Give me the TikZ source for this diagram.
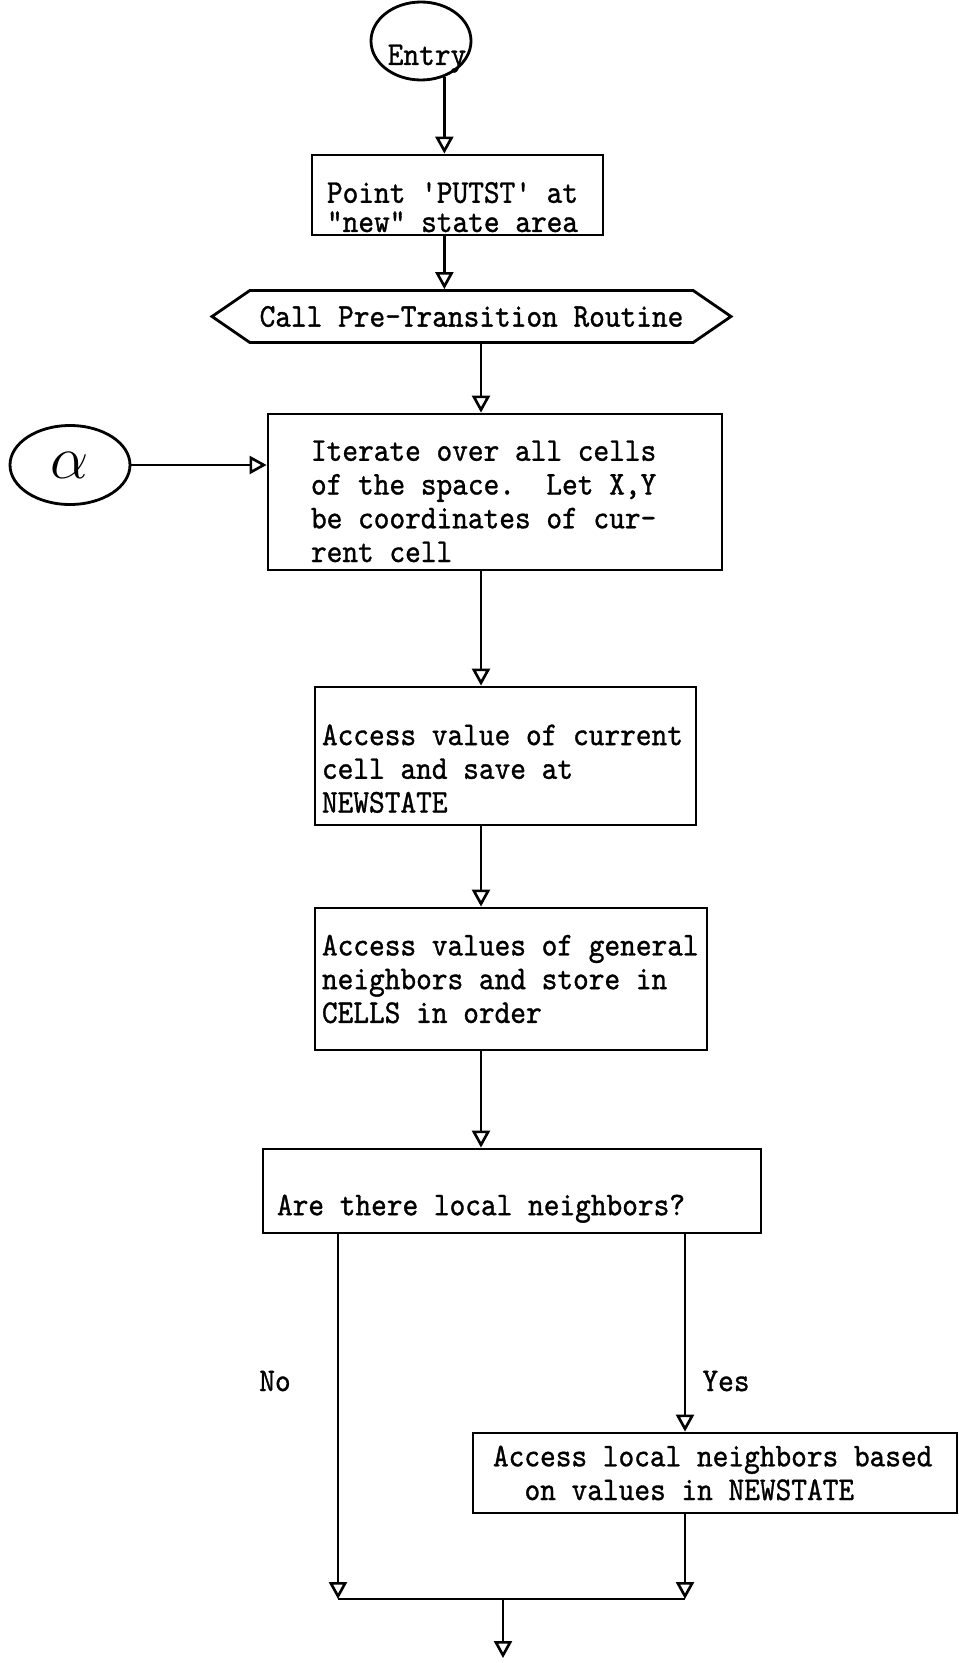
\documentclass[tikz,border=0pt]{standalone}
\usepackage{fontspec}
\setmonofont[FakeBold=1,FakeStretch=0.9]{lmmono10-regular.otf}
\usetikzlibrary{arrows.meta,shapes.geometric,shapes.symbols}

\tikzset{
  flow/.style={font=\ttfamily\fontsize{9.45}{9.6}\selectfont},
  stepbox/.style={flow, draw, line width=0.8pt, align=flush left, inner ysep=0pt},
  arr/.style={line width=0.75pt, -{Triangle[open, width=0.18cm, length=0.17cm]}},
}

\begin{document}
\begin{tikzpicture}
\useasboundingbox (0,0) rectangle (9.59,-16.63);

\coordinate (trunk) at (4.81,0);

\node[flow, draw, line width=0.8pt, ellipse, inner sep=0pt, minimum width=1.0cm, minimum height=0.78cm] (entry) at (4.21,-0.41) {\makebox[0pt]{\hspace{0.12cm}\raisebox{-0.24cm}[0pt][0pt]{Entry}}};

\node[stepbox, text width=2.61cm, inner xsep=0.15cm, minimum height=0.80cm, font=\ttfamily\fontsize{9.45}{8.3}\selectfont] (putst) at (4.575,-1.95) {\rule{0pt}{0.45cm}Point 'PUTST' at\\"new" state area};

\node[flow, draw, line width=0.8pt, signal, signal to=west and east, signal pointer angle=69, minimum width=5.19cm, minimum height=0.52cm, inner sep=0pt] (pretr) at (4.715,-3.165) {Call Pre-Transition Routine};

\node[draw, line width=0.8pt, ellipse, inner sep=0pt, minimum width=1.2cm, minimum height=0.79cm] (alpha) at (0.70,-4.65) {\fontsize{16}{16}\selectfont$\alpha$};

\node[stepbox, text width=3.68cm, inner xsep=0.43cm, minimum height=1.56cm] (iter) at (4.95,-4.92) {\rule{0pt}{0.39cm}Iterate over all cells\\of the space.\ \ Let X,Y\\be coordinates of cur-\\rent cell};

\node[stepbox, text width=3.67cm, inner xsep=0.07cm, minimum height=1.38cm] (acc) at (5.055,-7.56) {\rule{0pt}{0.46cm}Access value of current\\cell and save at\\NEWSTATE};

\node[stepbox, text width=3.78cm, inner xsep=0.07cm, minimum height=1.42cm] (gen) at (5.11,-9.79) {Access values of general\\neighbors and store in\\CELLS in order};

\node[stepbox, text width=4.70cm, inner xsep=0.14cm, minimum height=0.84cm] (ask) at (5.12,-11.91) {\rule{0pt}{0.56cm}Are there local neighbors?};

\node[flow] (no) at (2.75,-13.81) {No};
\node[flow] (yes) at (7.26,-13.81) {Yes};

\node[stepbox, text width=4.44cm, inner xsep=0.20cm, minimum height=0.80cm] (local) at (7.15,-14.73) {Access local neighbors based\\\hspace*{0.95em}on values in NEWSTATE};

\coordinate (mergeL) at (3.38,-15.99);
\coordinate (mergeR) at (6.85,-15.99);
\coordinate (exit) at (5.03,-16.58);

% main line
\draw[arr] (entry.-57) -- (entry.-57 |- putst.north);
\draw[arr] (putst.south -| entry.-57) -- (pretr.north -| entry.-57);
\draw[arr] (pretr.south -| trunk) -- (iter.north -| trunk);
\draw[arr] (alpha) -- (alpha -| iter.west);
\draw[arr] (iter.south -| trunk) -- (acc.north -| trunk);
\draw[arr] (acc.south -| trunk) -- (gen.north -| trunk);
\draw[arr] (gen.south -| trunk) -- (ask.north -| trunk);

% branches
\draw[arr] (ask.south -| mergeL) -- (mergeL);
\draw[arr] (ask.south -| mergeR) -- (local.north -| mergeR);
\draw[arr] (local.south -| mergeR) -- (mergeR);
\draw[line width=0.75pt] (mergeL) -- (mergeR);
\draw[arr] (mergeL -| exit) -- (exit);
\end{tikzpicture}
\end{document}
